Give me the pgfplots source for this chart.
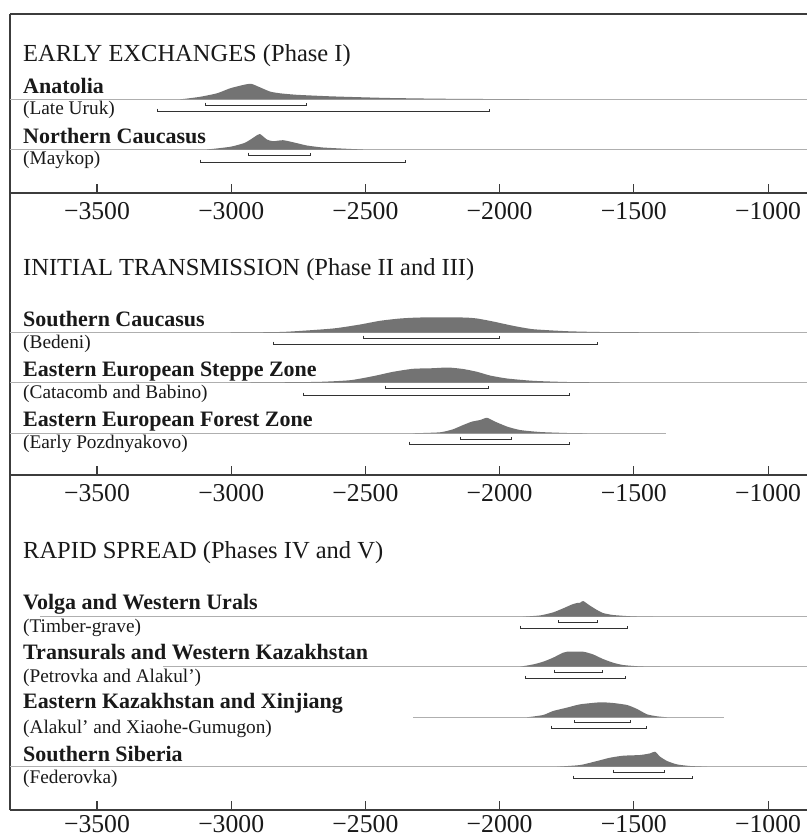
\documentclass[border=0pt]{standalone}
\usepackage{pgfplots}
\pgfplotsset{compat=1.18}
\usepackage{fontspec}
\setmainfont{Liberation Serif}
\definecolor{framegray}{RGB}{60,60,60}
\definecolor{basegray}{RGB}{175,175,175}
\definecolor{densgray}{RGB}{115,115,115}
\definecolor{brk}{RGB}{50,50,50}
\definecolor{txt}{RGB}{25,25,25}
\pgfplotsset{panel/.style={
  scale only axis, width=797pt,
  xmin=-3824, xmax=-855,
  axis x line=bottom, axis y line=left,
  axis line style={-, draw=framegray, line width=1.3pt},
  ytick=\empty,
  xtick={-3500,-3000,-2500,-2000,-1500,-1000},
  xticklabels={−3500,−3000,−2500,−2000,−1500,−1000},
  tick align=inside, major tick length=9pt,
  tick style={draw=framegray, line width=1.1pt},
  xticklabel style={font=\fontsize{25.7}{26}\selectfont, text=txt, anchor=base, inner sep=0pt, yshift=-26.5pt},
  anchor=south west,
}}
\tikzset{
  base/.style={draw=basegray, line width=0.8pt},
  dens/.style={fill=densgray, draw=none, smooth, tension=0.35},
  br/.style={draw=brk, line width=1pt},
  ttl/.style={anchor=base west, inner sep=0pt, text=txt, font=\fontsize{24.5}{28}\selectfont},
  nm/.style={anchor=base west, inner sep=0pt, text=txt, font=\bfseries\fontsize{22}{26}\selectfont},
  sb/.style={anchor=base west, inner sep=0pt, text=txt, font=\fontsize{19.3}{22}\selectfont},
}
\begin{document}
\begin{tikzpicture}[x=1pt,y=1pt]
\path[use as bounding box] (0,0) rectangle (807,-838);
% ---------- Panel 1 ----------
\begin{axis}[panel, at={(10pt,-193pt)}, height=179pt, ymin=-193, ymax=-14]
\addplot[base] coordinates {(-3824,-99.3) (-855,-99.3)};
\addplot[dens] coordinates {(-3191,-99.3) (-3172,-98.8) (-3116,-96.8) (-3053,-93.3) (-3004,-88.3) (-2956,-85.0) (-2926,-83.8) (-2893,-87.3) (-2855,-91.6) (-2818,-93.3) (-2755,-94.8) (-2632,-96.3) (-2509,-97.3) (-2408,-98.0) (-2222,-98.7) (-1998,-99.1) (-1849,-99.3)};
\addplot[br] coordinates {(-3094,-102.5) (-3094,-105) (-2721,-105) (-2721,-102.5)};
\addplot[br] coordinates {(-3273,-108.5) (-3273,-111) (-2039,-111) (-2039,-108.5)};
\addplot[base] coordinates {(-3824,-149.5) (-855,-149.5)};
\addplot[dens] coordinates {(-3090,-149.5) (-3004,-146.8) (-2949,-142.8) (-2911,-136.5) (-2893,-134.0) (-2867,-139.5) (-2844,-141.2) (-2807,-140.2) (-2770,-142.2) (-2718,-145.5) (-2658,-147.5) (-2568,-148.8) (-2509,-149.5)};
\addplot[br] coordinates {(-2937,-152.5) (-2937,-155) (-2706,-155) (-2706,-152.5)};
\addplot[br] coordinates {(-3113,-159.5) (-3113,-162) (-2349,-162) (-2349,-159.5)};
\end{axis}
% ---------- Panel 2 ----------
\begin{axis}[panel, at={(10pt,-475pt)}, height=282pt, ymin=-475, ymax=-193]
\addplot[base] coordinates {(-3824,-332.5) (-855,-332.5)};
\addplot[dens] coordinates {(-3004,-332.5) (-2807,-331.9) (-2621,-328.5) (-2520,-324.5) (-2446,-320.8) (-2371,-318.5) (-2297,-317.5) (-2136,-317.5) (-2084,-318.5) (-2024,-321.5) (-1950,-325.8) (-1875,-329.2) (-1749,-331.2) (-1626,-332.0) (-1440,-332.3) (-1253,-332.5)};
\addplot[br] coordinates {(-2509,-335.5) (-2509,-338) (-2002,-338) (-2002,-335.5)};
\addplot[br] coordinates {(-2844,-341.5) (-2844,-344) (-1637,-344) (-1637,-341.5)};
\addplot[base] coordinates {(-3824,-382.5) (-855,-382.5)};
\addplot[dens] coordinates {(-2930,-382.5) (-2680,-381.9) (-2557,-380.2) (-2472,-376.2) (-2397,-371.8) (-2323,-368.8) (-2248,-368.2) (-2192,-367.5) (-2136,-369.0) (-2084,-371.8) (-2036,-375.5) (-1972,-378.5) (-1875,-380.8) (-1749,-382.0) (-1551,-382.5)};
\addplot[br] coordinates {(-2427,-385.5) (-2427,-388) (-2043,-388) (-2043,-385.5)};
\addplot[br] coordinates {(-2729,-392.5) (-2729,-395) (-1741,-395) (-1741,-392.5)};
\addplot[base] coordinates {(-3824,-433.3) (-1380,-433.3)};
\addplot[dens] coordinates {(-2323,-433.3) (-2222,-432.3) (-2174,-429.3) (-2136,-425.0) (-2103,-421.6) (-2073,-420.0) (-2047,-417.8) (-2017,-421.6) (-1972,-426.6) (-1924,-430.0) (-1849,-432.0) (-1749,-433.0) (-1674,-433.3)};
\addplot[br] coordinates {(-2147,-436.5) (-2147,-439) (-1957,-439) (-1957,-436.5)};
\addplot[br] coordinates {(-2334,-441.5) (-2334,-444) (-1741,-444) (-1741,-441.5)};
\end{axis}
% ---------- Panel 3 ----------
\begin{axis}[panel, at={(10pt,-810pt)}, height=335pt, ymin=-810, ymax=-475,
  xticklabel style={yshift=4pt}]
\addplot[base] coordinates {(-3713,-616.7) (-855,-616.7)};
\addplot[dens] coordinates {(-1913,-616.7) (-1849,-615.4) (-1801,-612.4) (-1764,-608.4) (-1730,-604.4) (-1712,-603.0) (-1700,-602.7) (-1689,-601.0) (-1663,-605.7) (-1637,-610.0) (-1615,-613.0) (-1577,-615.0) (-1503,-616.4) (-1428,-616.7)};
\addplot[br] coordinates {(-1779,-620) (-1779,-622.5) (-1637,-622.5) (-1637,-620)};
\addplot[br] coordinates {(-1924,-625.5) (-1924,-628) (-1525,-628) (-1525,-625.5)};
\addplot[base] coordinates {(-3254,-666.7) (-855,-666.7)};
\addplot[dens] coordinates {(-1924,-666.7) (-1875,-664.4) (-1838,-661.7) (-1801,-657.7) (-1764,-652.7) (-1749,-651.7) (-1689,-651.7) (-1652,-654.4) (-1615,-659.0) (-1577,-662.7) (-1540,-665.0) (-1477,-666.4) (-1402,-666.7)};
\addplot[br] coordinates {(-1797,-669.5) (-1797,-672) (-1618,-672) (-1618,-669.5)};
\addplot[br] coordinates {(-1902,-675.5) (-1902,-678) (-1533,-678) (-1533,-675.5)};
\addplot[base] coordinates {(-2321,-717.3) (-1164,-717.3)};
\addplot[dens] coordinates {(-1898,-717.3) (-1838,-715.0) (-1801,-711.0) (-1749,-707.6) (-1700,-704.3) (-1626,-702.3) (-1577,-703.0) (-1525,-705.0) (-1488,-709.0) (-1451,-714.3) (-1414,-716.3) (-1376,-717.3)};
\addplot[br] coordinates {(-1723,-720) (-1723,-722.5) (-1514,-722.5) (-1514,-720)};
\addplot[br] coordinates {(-1808,-725.5) (-1808,-728) (-1454,-728) (-1454,-725.5)};
\addplot[base] coordinates {(-3824,-766.7) (-855,-766.7)};
\addplot[dens] coordinates {(-1786,-766.7) (-1700,-765.0) (-1637,-761.0) (-1589,-757.7) (-1540,-755.7) (-1477,-755.0) (-1440,-753.4) (-1421,-751.7) (-1402,-756.7) (-1376,-761.0) (-1339,-764.4) (-1290,-766.0) (-1227,-766.7)};
\addplot[br] coordinates {(-1574,-769.5) (-1574,-772) (-1387,-772) (-1387,-769.5)};
\addplot[br] coordinates {(-1726,-775.5) (-1726,-778) (-1283,-778) (-1283,-775.5)};
\end{axis}
% top frame line
\draw[draw=framegray, line width=1.3pt] (10,-14) -- (807,-14);
% ---------- Text ----------
\node[ttl] at (23,-61.5) {EARLY EXCHANGES (Phase I)};
\node[nm] at (23,-93.3) {Anatolia};
\node[sb] at (23,-114) {(Late Uruk)};
\node[nm] at (23,-143.3) {Northern Caucasus};
\node[sb] at (23,-164.5) {(Maykop)};
\node[ttl] at (23,-275) {INITIAL TRANSMISSION (Phase II and III)};
\node[nm] at (23,-326.7) {Southern Caucasus};
\node[sb] at (23,-348) {(Bedeni)};
\node[nm] at (23,-376) {Eastern European Steppe Zone};
\node[sb] at (23,-398) {(Catacomb and Babino)};
\node[nm] at (23,-426.7) {Eastern European Forest Zone};
\node[sb] at (23,-448.3) {(Early Pozdnyakovo)};
\node[ttl] at (23,-558) {RAPID SPREAD (Phases IV and V)};
\node[nm] at (23,-609) {Volga and Western Urals};
\node[sb] at (23,-632) {(Timber-grave)};
\node[nm] at (23,-659) {Transurals and Western Kazakhstan};
\node[sb] at (23,-682) {(Petrovka and Alakul’)};
\node[nm] at (23,-708.5) {Eastern Kazakhstan and Xinjiang};
\node[sb] at (23,-733) {(Alakul’ and Xiaohe-Gumugon)};
\node[nm] at (23,-761.2) {Southern Siberia};
\node[sb] at (23,-783) {(Federovka)};
\end{tikzpicture}
\end{document}
